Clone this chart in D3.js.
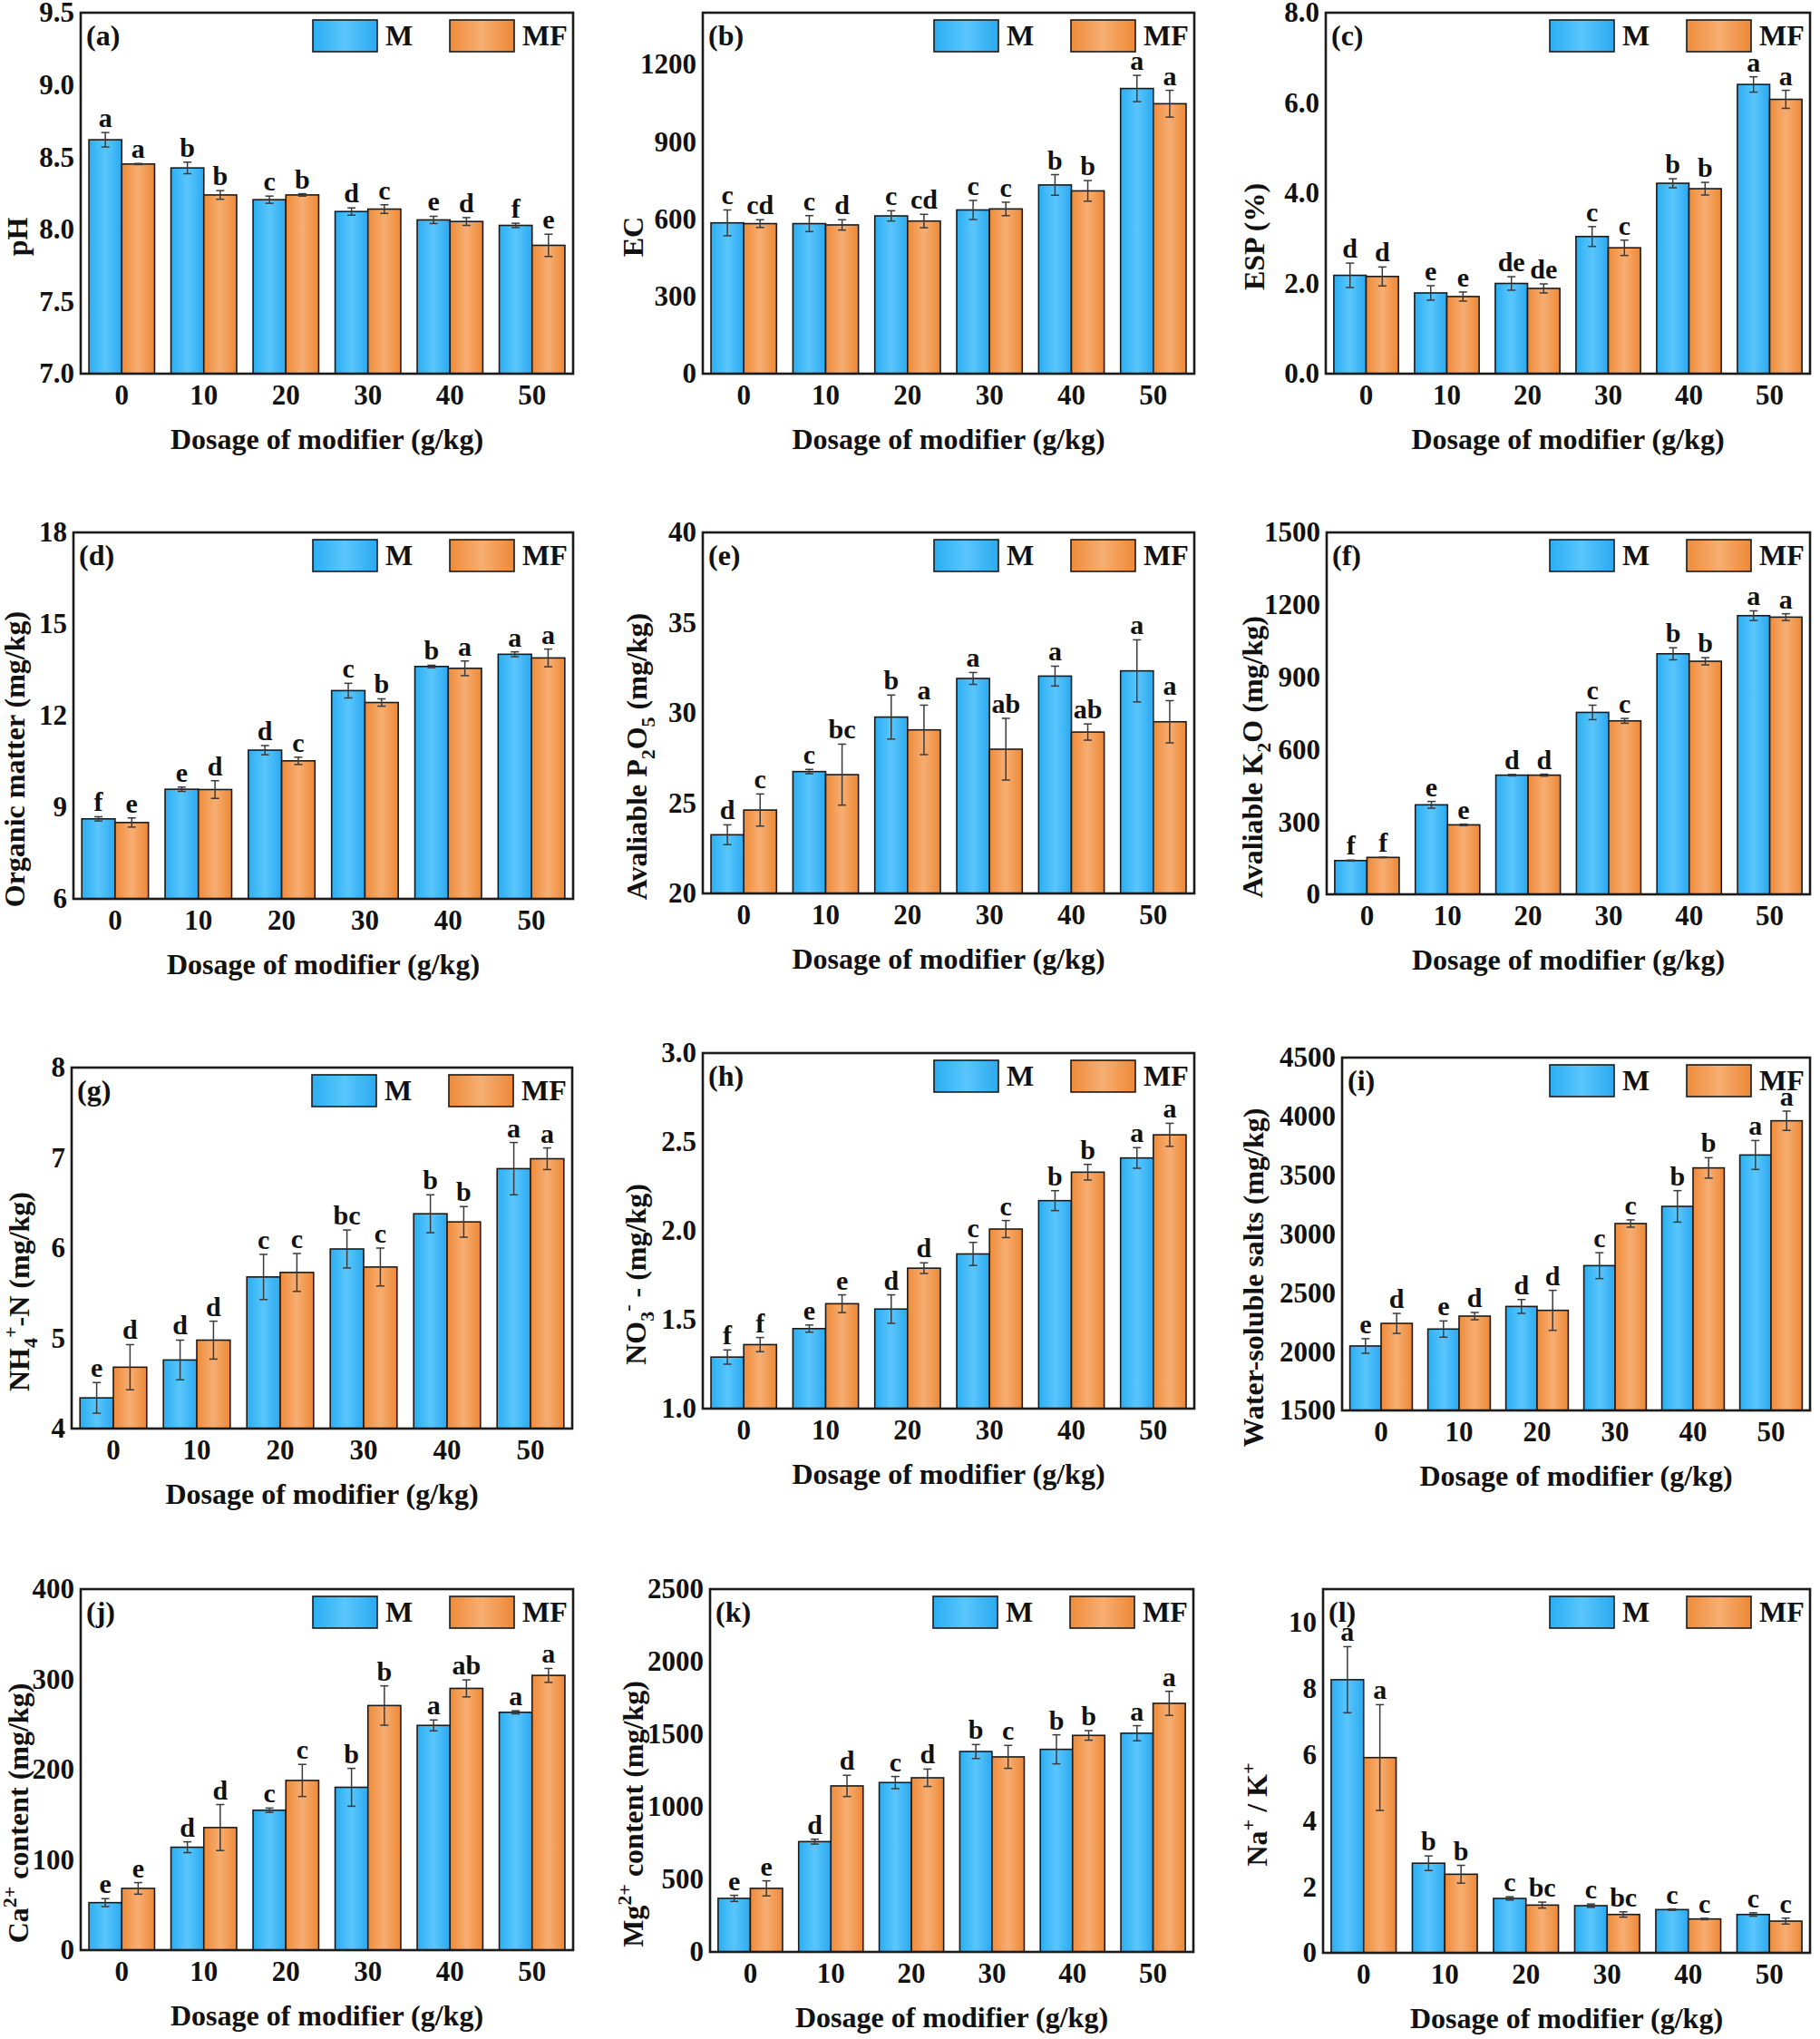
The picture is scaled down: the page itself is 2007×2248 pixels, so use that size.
<!DOCTYPE html>
<html>
<head>
<meta charset="utf-8">
<script src="https://cdn.jsdelivr.net/npm/d3@7"></script>
<style>
  body { margin: 0; background: #fff; }
  svg { display: block; font-family: "Liberation Serif", "Times New Roman", serif; font-weight: bold; }
</style>
</head>
<body>
<div id="chart"></div>
<script>
// Categories shared by every panel.
const dosages = ['0', '10', '20', '30', '40', '50'];
const seriesNames = ['M', 'MF'];

// (a) pH
const phM = [8.62, 8.425, 8.205, 8.123, 8.065, 8.027];
const phMF = [8.452, 8.238, 8.238, 8.14, 8.054, 7.889];
const phErrM = [0.05, 0.04, 0.025, 0.025, 0.025, 0.015];
const phErrMF = [0.004, 0.03, 0.008, 0.03, 0.027, 0.077];
const phLetM = ['a', 'b', 'c', 'd', 'e', 'f'];
const phLetMF = ['a', 'b', 'b', 'c', 'd', 'e'];
const phTicks = [7.0, 7.5, 8.0, 8.5, 9.0, 9.5];

// (b) EC
const ecM = [585, 582, 612, 635, 732, 1106];
const ecMF = [582, 577, 592, 639, 709, 1047];
const ecErrM = [50, 31, 20, 37, 40, 51];
const ecErrMF = [15, 20, 26, 26, 40, 52];
const ecLetM = ['c', 'c', 'c', 'c', 'b', 'a'];
const ecLetMF = ['cd', 'd', 'cd', 'c', 'b', 'a'];
const ecTicks = [0, 300, 600, 900, 1200];

// (c) ESP
const espM = [2.18, 1.79, 2.0, 3.04, 4.22, 6.41];
const espMF = [2.155, 1.71, 1.89, 2.79, 4.10, 6.08];
const espErrM = [0.27, 0.16, 0.15, 0.22, 0.1, 0.17];
const espErrMF = [0.21, 0.1, 0.1, 0.17, 0.14, 0.2];
const espLetM = ['d', 'e', 'de', 'c', 'b', 'a'];
const espLetMF = ['d', 'e', 'de', 'c', 'b', 'a'];
const espTicks = [0, 2, 4, 6, 8];

// (d) Organic matter
const omM = [8.62, 9.59, 10.87, 12.82, 13.61, 14.01];
const omMF = [8.50, 9.58, 10.52, 12.43, 13.55, 13.89];
const omErrM = [0.07, 0.07, 0.15, 0.24, 0.04, 0.08];
const omErrMF = [0.15, 0.29, 0.12, 0.12, 0.24, 0.29];
const omLetM = ['f', 'e', 'd', 'c', 'b', 'a'];
const omLetMF = ['e', 'd', 'c', 'b', 'a', 'a'];
const omTicks = [6, 9, 12, 15, 18];

// (e) Available P2O5
const pM = [23.25, 26.75, 29.77, 31.91, 32.04, 32.33];
const pMF = [24.62, 26.58, 29.06, 27.99, 28.94, 29.51];
const pErrM = [0.55, 0.12, 1.22, 0.33, 0.55, 1.72];
const pErrMF = [0.89, 1.69, 1.37, 1.71, 0.45, 1.17];
const pLetM = ['d', 'c', 'b', 'a', 'a', 'a'];
const pLetMF = ['c', 'bc', 'a', 'ab', 'ab', 'a'];
const pTicks = [20, 25, 30, 35, 40];

// (f) Available K2O
const kM = [140, 371, 494, 754, 997, 1155];
const kMF = [153, 288, 494, 719, 966, 1149];
const kErrM = [2, 14, 3, 30, 25, 20];
const kErrMF = [1, 3, 4, 10, 15, 14];
const kLetM = ['f', 'e', 'd', 'c', 'b', 'a'];
const kLetMF = ['f', 'e', 'd', 'c', 'b', 'a'];
const kTicks = [0, 300, 600, 900, 1200, 1500];

// (g) NH4+-N
const nhM = [4.34, 4.76, 5.68, 5.99, 6.38, 6.88];
const nhMF = [4.68, 4.98, 5.73, 5.79, 6.29, 6.99];
const nhErrM = [0.17, 0.22, 0.25, 0.21, 0.21, 0.29];
const nhErrMF = [0.25, 0.21, 0.21, 0.21, 0.17, 0.12];
const nhLetM = ['e', 'd', 'c', 'bc', 'b', 'a'];
const nhLetMF = ['d', 'd', 'c', 'c', 'b', 'a'];
const nhTicks = [4, 5, 6, 7, 8];

// (h) NO3-
const noM = [1.29, 1.45, 1.56, 1.87, 2.17, 2.41];
const noMF = [1.36, 1.59, 1.79, 2.01, 2.33, 2.54];
const noErrM = [0.04, 0.02, 0.08, 0.065, 0.056, 0.058];
const noErrMF = [0.04, 0.05, 0.03, 0.048, 0.044, 0.065];
const noLetM = ['f', 'e', 'd', 'c', 'b', 'a'];
const noLetMF = ['f', 'e', 'd', 'c', 'b', 'a'];
const noTicks = [1.0, 1.5, 2.0, 2.5, 3.0];

// (i) Water-soluble salts
const wsM = [2048, 2192, 2384, 2731, 3235, 3672];
const wsMF = [2240, 2302, 2351, 3089, 3562, 3963];
const wsErrM = [62, 69, 59, 110, 134, 123];
const wsErrMF = [85, 31, 170, 31, 87, 82];
const wsLetM = ['e', 'e', 'd', 'c', 'b', 'a'];
const wsLetMF = ['d', 'd', 'd', 'c', 'b', 'a'];
const wsTicks = [1500, 2000, 2500, 3000, 3500, 4000, 4500];

// (j) Ca2+ content
const caM = [52.6, 114, 155, 180.4, 249, 263.5];
const caMF = [68.4, 135.8, 188, 271, 290, 304.4];
const caErrM = [4.4, 6, 2.4, 21, 6, 1.7];
const caErrMF = [6.4, 25.5, 17.8, 21.8, 9.4, 7.7];
const caLetM = ['e', 'd', 'c', 'b', 'a', 'a'];
const caLetMF = ['e', 'd', 'c', 'b', 'ab', 'a'];
const caTicks = [0, 100, 200, 300, 400];

// (k) Mg2+ content
const mgM = [369, 760, 1167, 1381, 1396, 1507];
const mgMF = [438, 1144, 1200, 1344, 1492, 1713];
const mgErrM = [21, 17, 42, 48, 100, 52];
const mgErrMF = [52, 73, 60, 79, 33, 83];
const mgLetM = ['e', 'd', 'c', 'b', 'b', 'a'];
const mgLetMF = ['e', 'd', 'd', 'c', 'b', 'a'];
const mgTicks = [0, 500, 1000, 1500, 2000, 2500];

// (l) Na+/K+
const naM = [8.26, 2.71, 1.645, 1.426, 1.307, 1.16];
const naMF = [5.905, 2.377, 1.444, 1.16, 1.024, 0.96];
const naErrM = [1.0, 0.22, 0.05, 0.05, 0.02, 0.05];
const naErrMF = [1.6, 0.27, 0.09, 0.08, 0.02, 0.09];
const naLetM = ['a', 'b', 'c', 'c', 'c', 'c'];
const naLetMF = ['a', 'b', 'bc', 'bc', 'c', 'c'];
const naTicks = [0, 2, 4, 6, 8, 10];

// Panel definitions: data references, axis range and y-title pieces.
const panels = [
  {tag: '(a)', m: phM, mf: phMF, em: phErrM, emf: phErrMF, lm: phLetM, lmf: phLetMF, ticks: phTicks, domain: [7, 9.5], fmt: '.1f', title: [['pH']]},
  {tag: '(b)', m: ecM, mf: ecMF, em: ecErrM, emf: ecErrMF, lm: ecLetM, lmf: ecLetMF, ticks: ecTicks, domain: [0, 1400], fmt: 'd', title: [['EC']]},
  {tag: '(c)', m: espM, mf: espMF, em: espErrM, emf: espErrMF, lm: espLetM, lmf: espLetMF, ticks: espTicks, domain: [0, 8], fmt: '.1f', title: [['ESP (%)']]},
  {tag: '(d)', m: omM, mf: omMF, em: omErrM, emf: omErrMF, lm: omLetM, lmf: omLetMF, ticks: omTicks, domain: [6, 18], fmt: 'd', title: [['Organic matter (mg/kg)']]},
  {tag: '(e)', m: pM, mf: pMF, em: pErrM, emf: pErrMF, lm: pLetM, lmf: pLetMF, ticks: pTicks, domain: [20, 40], fmt: 'd', title: [['Avaliable P'], ['2', 'sub'], ['O'], ['5', 'sub'], [' (mg/kg)']]},
  {tag: '(f)', m: kM, mf: kMF, em: kErrM, emf: kErrMF, lm: kLetM, lmf: kLetMF, ticks: kTicks, domain: [0, 1500], fmt: 'd', title: [['Avaliable K'], ['2', 'sub'], ['O (mg/kg)']]},
  {tag: '(g)', m: nhM, mf: nhMF, em: nhErrM, emf: nhErrMF, lm: nhLetM, lmf: nhLetMF, ticks: nhTicks, domain: [4, 8], fmt: 'd', title: [['NH'], ['4', 'sub'], ['+', 'sup'], ['-N (mg/kg)']]},
  {tag: '(h)', m: noM, mf: noMF, em: noErrM, emf: noErrMF, lm: noLetM, lmf: noLetMF, ticks: noTicks, domain: [1, 3], fmt: '.1f', title: [['NO'], ['3', 'sub'], ['-', 'sup'], [' - (mg/kg)']]},
  {tag: '(i)', m: wsM, mf: wsMF, em: wsErrM, emf: wsErrMF, lm: wsLetM, lmf: wsLetMF, ticks: wsTicks, domain: [1500, 4500], fmt: 'd', title: [['Water-soluble salts (mg/kg)']]},
  {tag: '(j)', m: caM, mf: caMF, em: caErrM, emf: caErrMF, lm: caLetM, lmf: caLetMF, ticks: caTicks, domain: [0, 400], fmt: 'd', title: [['Ca'], ['2+', 'sup'], [' content (mg/kg)']]},
  {tag: '(k)', m: mgM, mf: mgMF, em: mgErrM, emf: mgErrMF, lm: mgLetM, lmf: mgLetMF, ticks: mgTicks, domain: [0, 2500], fmt: 'd', title: [['Mg'], ['2+', 'sup'], [' content (mg/kg)']]},
  {tag: '(l)', m: naM, mf: naMF, em: naErrM, emf: naErrMF, lm: naLetM, lmf: naLetMF, ticks: naTicks, domain: [0, 11], fmt: 'd', title: [['Na'], ['+', 'sup'], [' / K'], ['+', 'sup']]}
];

// Frame of each panel in page pixels, plus the x centre of its y-axis title.
const frames = [
  {x0: 89, x1: 632, y0: 14, y1: 412, tx: 21},
  {x0: 775, x1: 1317, y0: 14, y1: 412, tx: 700},
  {x0: 1462, x1: 1996, y0: 14, y1: 412, tx: 1385},
  {x0: 81, x1: 632, y0: 587, y1: 991, tx: 18},
  {x0: 775, x1: 1317, y0: 587, y1: 985, tx: 704},
  {x0: 1463, x1: 1996, y0: 587, y1: 986, tx: 1383},
  {x0: 79, x1: 631, y0: 1177, y1: 1575, tx: 23},
  {x0: 775, x1: 1317, y0: 1161, y1: 1553, tx: 703},
  {x0: 1480, x1: 1996, y0: 1166, y1: 1555, tx: 1384},
  {x0: 89, x1: 632, y0: 1752, y1: 2150, tx: 22},
  {x0: 783, x1: 1316, y0: 1752, y1: 2152, tx: 700},
  {x0: 1459, x1: 1996, y0: 1752, y1: 2153, tx: 1388}
];

const W = 2007, H = 2248;
const svg = d3.select('#chart').append('svg').attr('width', W).attr('height', H);
svg.append('rect').attr('width', W).attr('height', H).attr('fill', '#fff');

// Bars carry a soft horizontal sheen, lighter in the middle.
const defs = svg.append('defs');
const gradients = {
  M: ['#2aaef2', '#5ac6fd', '#2ba9ef'],
  MF: ['#ee8b3a', '#f7ae72', '#ed8835']
};
Object.entries(gradients).forEach(([key, stops]) => {
  const g = defs.append('linearGradient').attr('id', 'grad-' + key)
    .attr('x1', 0).attr('x2', 1).attr('y1', 0).attr('y2', 0);
  g.selectAll('stop').data(stops).join('stop')
    .attr('offset', (d, i) => i / (stops.length - 1))
    .attr('stop-color', d => d);
});

const ink = '#1a1a1a';

panels.forEach((p, idx) => {
  const f = frames[idx];
  const g = svg.append('g');

  const x = d3.scaleBand().domain(dosages).range([f.x0, f.x1]).paddingInner(0.2).paddingOuter(0.1);
  const xs = d3.scaleBand().domain(seriesNames).range([0, x.bandwidth()]);
  const y = d3.scaleLinear().domain(p.domain).range([f.y1, f.y0]);

  const rows = [];
  dosages.forEach((d, i) => {
    rows.push({dose: d, s: 'M', v: p.m[i], e: p.em[i], l: p.lm[i]});
    rows.push({dose: d, s: 'MF', v: p.mf[i], e: p.emf[i], l: p.lmf[i]});
  });

  g.selectAll('rect.bar').data(rows).join('rect')
    .attr('class', 'bar')
    .attr('x', d => x(d.dose) + xs(d.s))
    .attr('width', xs.bandwidth())
    .attr('y', d => y(d.v))
    .attr('height', d => y(p.domain[0]) - y(d.v))
    .attr('fill', d => `url(#grad-${d.s})`)
    .attr('stroke', ink)
    .attr('stroke-width', 1.6);

  // Error bars with short caps.
  const cx = d => x(d.dose) + xs(d.s) + xs.bandwidth() / 2;
  const eb = g.selectAll('g.err').data(rows).join('g').attr('class', 'err')
    .attr('stroke', '#3a3a3a').attr('stroke-width', 1.5);
  eb.append('line').attr('x1', cx).attr('x2', cx)
    .attr('y1', d => y(d.v - d.e)).attr('y2', d => y(d.v + d.e));
  eb.append('line').attr('x1', d => cx(d) - 4.5).attr('x2', d => cx(d) + 4.5)
    .attr('y1', d => y(d.v + d.e)).attr('y2', d => y(d.v + d.e));
  eb.append('line').attr('x1', d => cx(d) - 4.5).attr('x2', d => cx(d) + 4.5)
    .attr('y1', d => y(d.v - d.e)).attr('y2', d => y(d.v - d.e));

  // Significance letters.
  g.selectAll('text.sig').data(rows).join('text')
    .attr('class', 'sig')
    .attr('x', cx)
    .attr('y', d => y(d.v + d.e) - 6)
    .attr('text-anchor', 'middle')
    .attr('font-size', 30)
    .attr('fill', '#111')
    .text(d => d.l);

  // Axes without tick marks; the frame is drawn separately.
  const xAxis = g.append('g').attr('transform', `translate(0,${f.y1})`)
    .call(d3.axisBottom(x).tickSize(0).tickPadding(12));
  const yAxis = g.append('g').attr('transform', `translate(${f.x0},0)`)
    .call(d3.axisLeft(y).tickValues(p.ticks).tickFormat(d3.format(p.fmt)).tickSize(0).tickPadding(7));
  [xAxis, yAxis].forEach(a => {
    a.select('.domain').remove();
    a.attr('font-family', null).attr('font-size', null);
    a.selectAll('text').attr('font-size', 31).attr('fill', '#111');
  });

  g.append('rect')
    .attr('x', f.x0).attr('y', f.y0)
    .attr('width', f.x1 - f.x0).attr('height', f.y1 - f.y0)
    .attr('fill', 'none').attr('stroke', ink).attr('stroke-width', 2.6);

  // Panel tag.
  g.append('text').attr('x', f.x0 + 6).attr('y', f.y0 + 36)
    .attr('font-size', 32).attr('fill', '#111').text(p.tag);

  // Legend.
  const legend = g.append('g');
  [['M', f.x1 - 287], ['MF', f.x1 - 136]].forEach(([name, lx]) => {
    legend.append('rect').attr('x', lx).attr('y', f.y0 + 8)
      .attr('width', 71).attr('height', 35)
      .attr('fill', `url(#grad-${name})`).attr('stroke', ink).attr('stroke-width', 1.6);
    legend.append('text').attr('x', lx + 80).attr('y', f.y0 + 36)
      .attr('font-size', 32).attr('fill', '#111').text(name);
  });

  // X-axis title.
  g.append('text')
    .attr('x', (f.x0 + f.x1) / 2).attr('y', f.y1 + 83)
    .attr('text-anchor', 'middle').attr('font-size', 32).attr('fill', '#111')
    .text('Dosage of modifier (g/kg)');

  // Y-axis title with sub/superscripts.
  const yt = g.append('text')
    .attr('transform', `translate(${f.tx + 9},${(f.y0 + f.y1) / 2 + 48}) rotate(-90)`)
    .attr('text-anchor', 'middle').attr('font-size', 32).attr('fill', '#111');
  let shift = 0;
  p.title.forEach(([txt, kind]) => {
    const target = kind === 'sub' ? 9 : kind === 'sup' ? -13 : 0;
    yt.append('tspan')
      .attr('dy', target - shift)
      .attr('font-size', kind ? 22 : 32)
      .text(txt);
    shift = target;
  });
});
</script>
</body>
</html>
